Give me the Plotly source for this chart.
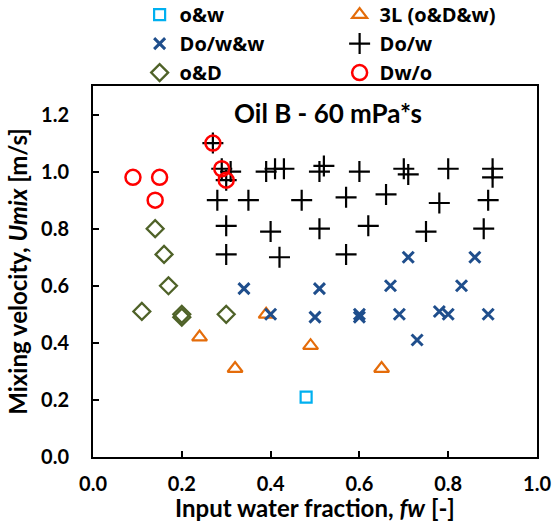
import plotly.graph_objects as go

# ---- data (fw, Umix) ----
ow_x = [0.48]
ow_y = [0.21]

l3_x = [0.39, 0.24, 0.49, 0.32, 0.65]
l3_y = [0.50, 0.42, 0.39, 0.31, 0.31]

dow_w_x = [0.34, 0.51, 0.67, 0.83, 0.71, 0.86, 0.40, 0.50, 0.60, 0.60, 0.69, 0.78, 0.80, 0.89, 0.73]
dow_w_y = [0.59, 0.59, 0.60, 0.60, 0.70, 0.70, 0.50, 0.49, 0.50, 0.49, 0.50, 0.51, 0.50, 0.50, 0.41]

dow_x = [0.27, 0.29, 0.30, 0.31, 0.28, 0.30, 0.30,
         0.39, 0.41, 0.43, 0.51, 0.52, 0.60, 0.70, 0.71, 0.80, 0.90, 0.90,
         0.35, 0.47, 0.57, 0.66, 0.78, 0.89,
         0.40, 0.51, 0.62, 0.75, 0.88,
         0.42, 0.57]
dow_y = [1.10, 1.01, 0.97, 1.00, 0.90, 0.81, 0.71,
         1.00, 1.01, 1.01, 1.00, 1.02, 1.00, 1.01, 0.99, 1.01, 1.01, 0.98,
         0.90, 0.90, 0.91, 0.92, 0.89, 0.90,
         0.79, 0.80, 0.81, 0.79, 0.80,
         0.70, 0.71]

od_x = [0.14, 0.16, 0.17, 0.11, 0.20, 0.20, 0.30]
od_y = [0.80, 0.71, 0.60, 0.51, 0.49, 0.50, 0.50]

dwo_x = [0.09, 0.15, 0.14, 0.27, 0.29, 0.30]
dwo_y = [0.98, 0.98, 0.90, 1.10, 1.01, 0.97]

x_ticks = [0.0, 0.2, 0.4, 0.6, 0.8, 1.0]
y_ticks = [0.0, 0.2, 0.4, 0.6, 0.8, 1.0, 1.2]

FONT = "Lato"
LFONT = "Open Sans"

fig = go.Figure()

def add(name, xs, ys, symbol, color, size, lw):
    fig.add_trace(go.Scatter(
        x=xs, y=ys, mode="markers", name=name,
        marker=dict(symbol=symbol, size=size, color=color,
                    line=dict(color=color, width=lw)),
    ))

add("o&w", ow_x, ow_y, "square-open", "#00B0F0", 11, 2.2)
add("3L (o&D&w)", l3_x, l3_y, "triangle-up-open", "#E46C0A", 13, 2.2)
add("Do/w&w", dow_w_x, dow_w_y, "x-thin-open", "#1F4E8C", 11, 3)
add("Do/w", dow_x, dow_y, "cross-thin-open", "#000000", 15, 2.2)
add("o&D", od_x, od_y, "diamond-open", "#4F6228", 13, 2.3)
add("Dw/o", dwo_x, dwo_y, "circle-open", "#FF0000", 15, 2.5)

axis_common = dict(
    showgrid=False, zeroline=False,
    showline=True, linecolor="black", linewidth=2, mirror=True,
    ticks="inside", ticklen=6, tickwidth=1.5, tickcolor="black",
    tickfont=dict(family=FONT, size=20, color="black", weight="bold"),
)

fig.update_layout(
    width=554, height=522,
    margin=dict(l=93, r=17, t=86, b=65, autoexpand=False),
    plot_bgcolor="white", paper_bgcolor="white",
    xaxis=dict(range=[0, 1], tickvals=x_ticks, tickformat=".1f",
               ticklabelstandoff=8,
               title=dict(text="Input water fraction, <i>fw</i> [-]",
                          font=dict(family=FONT, size=24, color="black", weight="bold"),
                          standoff=3),
               **axis_common),
    yaxis=dict(range=[0, 1.3], tickvals=y_ticks, tickformat=".1f",
               ticklabelstandoff=18,
               title=dict(text="Mixing velocity, <i>Umix</i> [m/s]",
                          font=dict(family=FONT, size=24, color="black", weight="bold"),
                          standoff=7),
               **axis_common),
    legend=dict(orientation="h", x=0.105, xanchor="left", y=1.245, yanchor="top",
                entrywidth=155, entrywidthmode="pixels",
                font=dict(family=LFONT, size=20, color="black", weight="bold"),
                bgcolor="rgba(0,0,0,0)", itemsizing="trace"),
    showlegend=True,
    annotations=[dict(text="Oil B - 60 mPa*s", xref="paper", yref="paper",
                      x=0.53, y=0.927, xanchor="center", yanchor="middle",
                      showarrow=False,
                      font=dict(family=FONT, size=26, color="black", weight="bold"))],
)

fig.write_html("out.html")
